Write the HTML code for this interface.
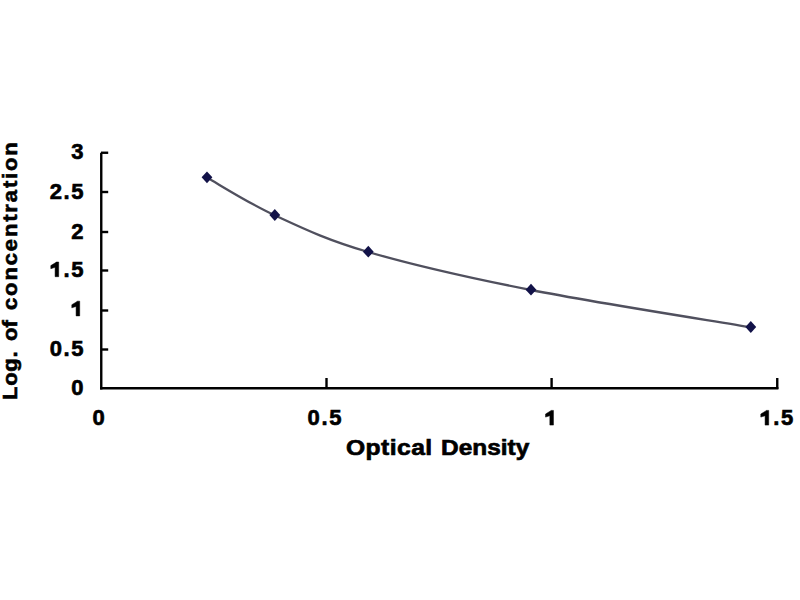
<!DOCTYPE html>
<html><head><meta charset="utf-8"><style>
html,body{margin:0;padding:0;background:#fff;width:800px;height:600px;overflow:hidden}
svg{position:absolute;left:0;top:0}
.t{position:absolute;font-family:'Liberation Sans',sans-serif;font-weight:bold;font-size:22px;letter-spacing:1.6px;color:#000;-webkit-text-stroke:0.65px #000;white-space:nowrap;line-height:25px;height:25px}
.yl{right:716.5px;text-align:right;margin-right:-1.6px}
.xl{top:405px;width:120px;text-align:center;text-indent:1.6px}
.o{color:transparent;-webkit-text-stroke-color:transparent}
#xt{left:345.6px;top:435.3px;letter-spacing:0.4px;transform:scaleX(1.12);transform-origin:0 0}
#xt2{left:440.7px;top:435.3px;letter-spacing:0;transform:scaleX(1.11);transform-origin:0 0}
.yt{letter-spacing:0;transform:rotate(-90deg) scaleY(0.93);transform-origin:0 0}
</style></head><body>
<svg width="800" height="600" viewBox="0 0 800 600">
<line x1="101.25" y1="152.75" x2="101.25" y2="389.5" stroke="#000" stroke-width="2.4"/>
<line x1="100.05" y1="388.3" x2="778.4" y2="388.3" stroke="#000" stroke-width="2.4"/>
<line x1="101" y1="152.75" x2="108.2" y2="152.75" stroke="#000" stroke-width="2.4"/>
<line x1="101" y1="192" x2="108.2" y2="192" stroke="#000" stroke-width="2.4"/>
<line x1="101" y1="232" x2="108.2" y2="232" stroke="#000" stroke-width="2.4"/>
<line x1="101" y1="270.5" x2="108.2" y2="270.5" stroke="#000" stroke-width="2.4"/>
<line x1="101" y1="310.5" x2="108.2" y2="310.5" stroke="#000" stroke-width="2.4"/>
<line x1="101" y1="349.5" x2="108.2" y2="349.5" stroke="#000" stroke-width="2.4"/>
<line x1="326.5" y1="378" x2="326.5" y2="389" stroke="#000" stroke-width="2.4"/>
<line x1="551.6" y1="378" x2="551.6" y2="389" stroke="#000" stroke-width="2.4"/>
<line x1="777.25" y1="378" x2="777.25" y2="389" stroke="#000" stroke-width="2.4"/>
<path d="M207.00,177.30 C218.30,183.58 247.92,202.60 274.80,215.00 C301.68,227.40 325.60,239.25 368.30,251.70 C411.00,264.15 467.25,277.15 531.00,289.70 C594.75,302.25 714.17,320.78 750.80,327.00" transform="translate(0,0.3)" fill="none" stroke="#50505e" stroke-width="2.3"/>
<path d="M207,171.4 L212.4,177.3 L207,183.20000000000002 L201.6,177.3 Z" fill="#121248"/>
<path d="M274.8,209.1 L280.2,215 L274.8,220.9 L269.40000000000003,215 Z" fill="#121248"/>
<path d="M368.3,245.79999999999998 L373.7,251.7 L368.3,257.59999999999997 L362.90000000000003,251.7 Z" fill="#121248"/>
<path d="M531,283.8 L536.4,289.7 L531,295.59999999999997 L525.6,289.7 Z" fill="#121248"/>
<path d="M750.8,321.1 L756.1999999999999,327 L750.8,332.9 L745.4,327 Z" fill="#121248"/>
<path d="M553.45,410.40 L553.45,425.10 L549.85,425.10 L549.85,415.70 L545.55,417.10 L545.55,414.00 L550.15,411.20 L550.95,410.40 Z" fill="#000" stroke="#000" stroke-width="0.5"/>
<path d="M768.70,410.40 L768.70,425.10 L765.10,425.10 L765.10,415.70 L760.80,417.10 L760.80,414.00 L765.40,411.20 L766.20,410.40 Z" fill="#000" stroke="#000" stroke-width="0.5"/>
<path d="M58.70,262.00 L58.70,276.70 L55.10,276.70 L55.10,267.30 L50.80,268.70 L50.80,265.60 L55.40,262.80 L56.20,262.00 Z" fill="#000" stroke="#000" stroke-width="0.5"/>
<path d="M79.70,301.15 L79.70,315.90 L76.10,315.90 L76.10,306.45 L71.80,307.85 L71.80,304.75 L76.40,301.95 L77.20,301.15 Z" fill="#000" stroke="#000" stroke-width="0.5"/>
</svg>
<div class="t yl" style="top:139.25px">3</div>
<div class="t yl" style="top:178.50px">2.5</div>
<div class="t yl" style="top:218.50px">2</div>
<div class="t yl" style="top:257.00px"><span class=o>1</span>.5</div>
<div class="t yl" style="top:297.00px"><span class=o>1</span></div>
<div class="t yl" style="top:336.00px">0.5</div>
<div class="t yl" style="top:375.00px">0</div>
<div class="t xl" style="left:38.67px">0</div>
<div class="t xl" style="left:264.50px">0.5</div>
<div class="t xl" style="left:490.10px"><span class=o>1</span></div>
<div class="t xl" style="left:716.30px"><span class=o>1</span>.5</div>
<div class="t" id="xt">Optical</div><div class="t" id="xt2">Density</div>
<div class="t yt" style="left:-2.5px;top:399.8px;letter-spacing:0.7px">Log.</div><div class="t yt" style="left:-2.5px;top:341px">of</div><div class="t yt" style="left:-2.5px;top:309.6px;letter-spacing:1.86px">concentration</div>
</body></html>
